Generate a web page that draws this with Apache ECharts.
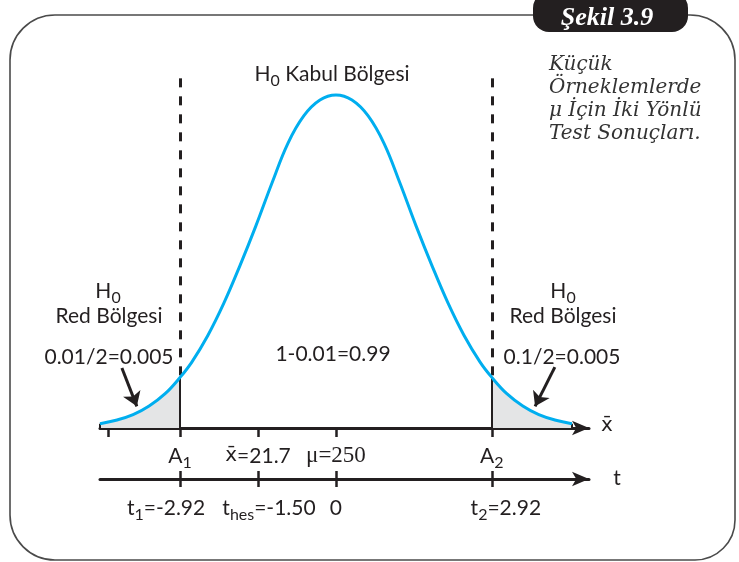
<!DOCTYPE html>
<html>
<head>
<meta charset="utf-8" />
<title>Şekil 3.9</title>
<script src="https://cdn.jsdelivr.net/npm/echarts@6/dist/echarts.min.js"></script>
</head>
<body style="margin:0; background:#fff;">
<div id="container" style="width:739px; height:562px;"></div>
<script type="text/javascript">
// curve: t value and height (peak = 100)
var curveT = [-4.42, -4.1, -3.8, -3.5, -3.2, -2.92, -2.7, -2.4, -2.1, -1.8, -1.5, -1.2, -0.9, -0.6, -0.3, 0,
              0.3, 0.6, 0.9, 1.2, 1.5, 1.8, 2.1, 2.4, 2.7, 2.92, 3.2, 3.5, 3.8, 4.1, 4.42];
var curveY = [1.3, 2.4, 4.0, 6.6, 10.3, 15.2, 19.8, 27.8, 37.5, 48.7, 60.7, 73.5, 85.5, 93.8, 98.5, 100,
              98.5, 93.8, 85.5, 73.5, 60.7, 48.7, 37.5, 27.8, 19.8, 15.2, 10.3, 6.6, 4.0, 2.4, 1.3];

// critical values (t units)
var critLow = -2.92;
var critHigh = 2.92;

// ticks on the x-bar axis (first one has no label)
var xbarTicks = [-4.27, -2.92, -1.46, 0, 2.92];
var xbarLabelVals = [-2.92, -1.46, 0, 2.92];
var xbarLabels = ['{m|A}{s|1}', '{xb|x\u0304}{m|=21.7}', '{mu|\u03bc=250}', '{m|A}{s|2}'];

// ticks on the t axis
var tTicks = [-2.92, -1.46, 0, 2.92];
var tLabels = ['{m|t}{s|1}{m|=-2.92}', '{m|t}{s|hes}{m|=-1.50}', '{m|0}', '{m|t}{s|2}{m|=2.92}'];
var tLabelShift = [-14, 11, 0, 14];   // label nudges, px

var INK = '#231f20';
var SANS = "Lato, 'Open Sans', sans-serif";

var rich = {
    m: {fontSize: 21, fontFamily: SANS, color: INK, fill: INK, lineHeight: 30},
    s: {fontSize: 16, fontFamily: SANS, color: INK, fill: INK, verticalAlign: 'bottom'},
    xb: {fontSize: 20, fontFamily: 'DejaVu Sans', color: INK, fill: INK, lineHeight: 30},
    mu: {fontSize: 23, fontFamily: 'Liberation Serif', color: INK, fill: INK, lineHeight: 30}
};

function pickLabel(vals, labels) {
    return function (v) {
        for (var i = 0; i < vals.length; i++) {
            if (Math.abs(vals[i] - v) < 1e-6) return labels[i];
        }
        return '';
    };
}

function note(x, y, text) {
    return {
        type: 'text', x: x, y: y, z: 10,
        style: {text: text, rich: rich, align: 'center', verticalAlign: 'middle',
                fill: INK, fontSize: 21, fontFamily: SANS}
    };
}

var FRAME = {stroke: '#4a4a4a', lineWidth: 1.6, fill: null};
function seg(x1, y1, x2, y2) {
    return {type: 'line', z: 0, shape: {x1: x1, y1: y1, x2: x2, y2: y2}, style: FRAME};
}
function corner(cx, cy, r, a0, a1) {
    return {type: 'arc', z: 0, shape: {cx: cx, cy: cy, r: r, startAngle: a0, endAngle: a1, clockwise: true}, style: FRAME};
}

var pts = curveT.map(function (t, i) { return [t, curveY[i]]; });
var leftTail = pts.filter(function (p) { return p[0] <= critLow + 1e-9; });
var rightTail = pts.filter(function (p) { return p[0] >= critHigh - 1e-9; });
var yAt = function (t) { return curveY[curveT.indexOf(t)]; };
var last = curveT.length - 1;

var myChart = echarts.init(document.getElementById('container'));

var option = {
    backgroundColor: '#fff',
    animation: false,
    grid: [
        {left: 100, width: 489, top: 75, height: 353},
        {left: 100, width: 489, top: 471, height: 8}
    ],
    xAxis: [
        {
            gridIndex: 0, type: 'value', min: -4.42, max: 4.74,
            axisLine: {show: true, onZero: true, symbol: ['none', 'arrow'], symbolSize: [11, 17],
                       lineStyle: {color: INK, width: 3}},
            axisTick: {show: true, customValues: xbarTicks, length: 9, lineStyle: {color: INK, width: 2.5}},
            axisLabel: {show: true, customValues: xbarLabelVals, margin: 13, rich: rich, hideOverlap: false,
                        showMinLabel: true, showMaxLabel: true,
                        formatter: pickLabel(xbarLabelVals, xbarLabels)},
            splitLine: {show: false}
        },
        {
            gridIndex: 1, type: 'value', min: -4.42, max: 4.74,
            axisLine: {show: true, onZero: false, symbol: ['none', 'arrow'], symbolSize: [11, 17],
                       lineStyle: {color: INK, width: 3}},
            axisTick: {show: false},
            axisLabel: {show: false},
            splitLine: {show: false}
        }
    ],
    yAxis: [
        {gridIndex: 0, type: 'value', min: 0, max: 106, show: false},
        {gridIndex: 1, type: 'value', min: 0, max: 1, show: false}
    ],
    series: [
        {
            type: 'line', data: leftTail, smooth: 0.4, showSymbol: false, z: 1,
            lineStyle: {width: 0}, areaStyle: {color: '#e4e5e6', opacity: 1}
        },
        {
            type: 'line', data: rightTail, smooth: 0.4, showSymbol: false, z: 1,
            lineStyle: {width: 0}, areaStyle: {color: '#e4e5e6', opacity: 1}
        },
        {
            // solid edges of the shaded tails
            type: 'lines', coordinateSystem: 'cartesian2d', z: 3,
            lineStyle: {color: INK, width: 2, opacity: 1},
            data: [
                {coords: [[critLow, 0], [critLow, yAt(critLow)]]},
                {coords: [[critHigh, 0], [critHigh, yAt(critHigh)]]},
                {coords: [[curveT[0], 0], [curveT[0], curveY[0]]]},
                {coords: [[curveT[last], 0], [curveT[last], curveY[last]]]}
            ]
        },
        {
            // dashed borders of the acceptance region
            type: 'lines', coordinateSystem: 'cartesian2d', z: 3,
            lineStyle: {color: INK, width: 3, type: [9, 9], opacity: 1},
            data: [
                {coords: [[critLow, 105], [critLow, yAt(critLow)]]},
                {coords: [[critHigh, 105], [critHigh, yAt(critHigh)]]}
            ]
        },
        {
            type: 'line', data: pts, smooth: 0.4, showSymbol: false, z: 5,
            lineStyle: {color: '#00aeef', width: 3}
        },
        {
            // pointers to the tails
            type: 'lines', coordinateSystem: 'cartesian2d', z: 6,
            symbol: ['none', 'arrow'], symbolSize: 14,
            lineStyle: {color: INK, width: 3, opacity: 1},
            data: [
                {coords: [[-4.01, 18.0], [-3.73, 6.5]]},
                {coords: [[4.10, 18.3], [3.73, 6.5]]}
            ]
        },
        {
            // ticks crossing the t axis
            type: 'lines', coordinateSystem: 'cartesian2d', xAxisIndex: 1, yAxisIndex: 1, z: 3, clip: false,
            lineStyle: {color: INK, width: 2.5, opacity: 1},
            data: tTicks.map(function (t) { return {coords: [[t, -1], [t, 1]]}; })
        },
        {
            // labels under the t axis
            type: 'scatter', xAxisIndex: 1, yAxisIndex: 1, symbolSize: 0, z: 4, clip: false,
            silent: true,
            itemStyle: {opacity: 1, color: INK},
            label: {show: true, position: 'bottom', distance: 14, rich: rich, color: INK, opacity: 1},
            data: tTicks.map(function (t, i) {
                return {value: [t, 0], label: {formatter: tLabels[i], offset: [tLabelShift[i], 0]}};
            })
        }
    ],
    graphic: [
        seg(55, 15, 533, 15),
        seg(688, 15, 690, 15),
        corner(690, 60, 45, -Math.PI / 2, 0),
        seg(735, 60, 735, 520),
        corner(695, 520, 40, 0, Math.PI / 2),
        seg(55, 560, 695, 560),
        corner(55, 515, 45, Math.PI / 2, Math.PI),
        seg(10, 60, 10, 515),
        corner(55, 60, 45, Math.PI, Math.PI * 1.5),
        {
            type: 'rect', z: 1,
            shape: {x: 533, y: -8, width: 155, height: 40, r: 16},
            style: {fill: INK}
        },
        {
            type: 'text', x: 607, y: 18, z: 2,
            style: {text: 'Şekil 3.9', fill: '#fff', font: "italic bold 26px 'Liberation Serif'",
                    align: 'center', verticalAlign: 'middle'}
        },
        {
            type: 'text', x: 549, y: 53, z: 2,
            style: {text: 'Küçük\nÖrneklemlerde\nμ İçin İki Yönlü\nTest Sonuçları.', fill: '#333',
                    fontSize: 20, fontFamily: 'DejaVu Serif', fontStyle: 'italic', lineHeight: 23,
                    align: 'left', verticalAlign: 'top'}
        },
        note(332, 74, '{m|H}{s|0}{m| Kabul Bölgesi}'),
        note(108, 291, '{m|H}{s|0}'),
        note(109, 316, '{m|Red Bölgesi}'),
        note(109, 357, '{m|0.01/2=0.005}'),
        note(563, 291, '{m|H}{s|0}'),
        note(563, 316, '{m|Red Bölgesi}'),
        note(562, 357, '{m|0.1/2=0.005}'),
        note(333, 354, '{m|1-0.01=0.99}'),
        note(607, 426, '{xb|x\u0304}'),
        note(617, 478, '{m|t}')
    ]
};
myChart.setOption(option);
</script>
</body>
</html>
